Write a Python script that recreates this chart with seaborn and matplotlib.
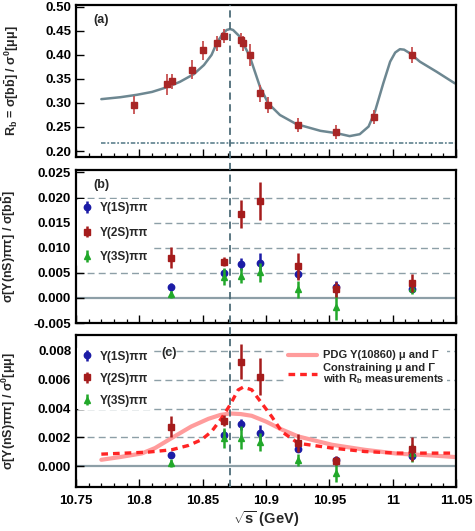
import matplotlib
matplotlib.use("Agg")
import matplotlib.pyplot as plt
import matplotlib.transforms as mtransforms
from matplotlib.lines import Line2D
from matplotlib.ticker import MultipleLocator, FixedLocator, FormatStrFormatter
import pandas as pd
import seaborn as sns

# ---------------- data ----------------
# (a) R_b scan points
rb_x = [10.796, 10.8216, 10.8255, 10.8416, 10.850, 10.8615, 10.8668, 10.8805,
        10.882, 10.8873, 10.8952, 10.9018, 10.9255, 10.955, 10.985, 11.0154]
rb_y = [0.296, 0.339, 0.345, 0.369, 0.410, 0.424, 0.439, 0.431,
        0.424, 0.400, 0.320, 0.296, 0.254, 0.239, 0.271, 0.400]
rb_err = [0.019, 0.022, 0.016, 0.020, 0.020, 0.016, 0.015, 0.015,
          0.015, 0.022, 0.017, 0.017, 0.015, 0.015, 0.015, 0.017]

# (a) fitted R_b line
rb_fit_x = [10.770, 10.785, 10.798, 10.810, 10.822, 10.832, 10.843, 10.851,
            10.857, 10.861, 10.866, 10.869, 10.8716, 10.874, 10.8794, 10.8873,
            10.8952, 10.9018, 10.911, 10.924, 10.943, 10.956, 10.966, 10.974,
            10.981, 10.986, 10.9926, 10.998, 11.002, 11.0057, 11.009, 11.0136,
            11.0215, 11.0347, 11.049]
rb_fit_y = [0.308, 0.312, 0.317, 0.323, 0.333, 0.344, 0.360, 0.379,
            0.400, 0.424, 0.445, 0.452, 0.454, 0.452, 0.438, 0.396,
            0.334, 0.299, 0.275, 0.256, 0.242, 0.237, 0.231, 0.235,
            0.251, 0.282, 0.341, 0.386, 0.405, 0.412, 0.411, 0.4035,
            0.386, 0.365, 0.341]
rb_continuum = 0.2173
peak_mass = 10.8716

# (b), (c) scan energies
scan_x = [10.825, 10.8668, 10.8802, 10.8952, 10.9255, 10.9552, 11.0154]

# (b) sigma[Y(nS)pipi] / sigma[bb]
b_1s = [0.0022, 0.0049, 0.0067, 0.0070, 0.0047, 0.0021, 0.0017]
b_1s_err = [0.0008, 0.0008, 0.0012, 0.0019, 0.0009, 0.0013, 0.0005]
b_2s = [0.0080, 0.0072, 0.0168, 0.0193, 0.0063, 0.0017, 0.0030]
b_2s_err = [0.0021, 0.0009, 0.0028, 0.0038, 0.0027, 0.0015, 0.0018]
b_3s = [0.0007, 0.0042, 0.0044, 0.0051, 0.0017, -0.0018, 0.0019]
b_3s_err = [0.0007, 0.0017, 0.0015, 0.0019, 0.0017, 0.0026, 0.0012]

# (c) sigma[Y(nS)pipi] / sigma0[mumu]
c_1s = [0.00076, 0.00219, 0.0029, 0.00228, 0.00122, 0.00046, 0.00074]
c_1s_err = [0.0002, 0.0003, 0.0004, 0.00057, 0.0002, 0.0002, 0.0002]
c_2s = [0.00276, 0.00317, 0.00724, 0.0062, 0.00161, 0.00041, 0.0012]
c_2s_err = [0.00076, 0.0004, 0.0012, 0.00126, 0.0006, 0.0003, 0.0008]
c_3s = [0.00023, 0.00198, 0.00198, 0.0017, 0.00046, -0.00046, 0.00092]
c_3s_err = [0.0003, 0.0007, 0.0008, 0.0006, 0.0004, 0.0006, 0.0006]

# (c) line shapes
pdg_x = [10.770, 10.785, 10.802, 10.8124, 10.8255, 10.841, 10.8545, 10.864,
         10.8716, 10.880, 10.8887, 10.900, 10.9125, 10.9255, 10.952, 10.978,
         11.004, 11.031, 11.049]
pdg_y = [0.00046, 0.00065, 0.00090, 0.00127, 0.00196, 0.00276, 0.00329, 0.00356,
         0.00366, 0.00362, 0.00350, 0.00310, 0.00255, 0.00207, 0.00150, 0.00115,
         0.00088, 0.00076, 0.00065]
con_x = [10.770, 10.789, 10.807, 10.8255, 10.8387, 10.849, 10.857, 10.865,
         10.8716, 10.878, 10.882, 10.8887, 10.8966, 10.9045, 10.9124, 10.9255,
         10.952, 10.978, 11.004, 11.049]
con_y = [0.00085, 0.00092, 0.00099, 0.00115, 0.00145, 0.00184, 0.00241, 0.00334,
         0.00425, 0.00529, 0.00548, 0.00530, 0.00437, 0.00345, 0.00241, 0.00160,
         0.00127, 0.00103, 0.00092, 0.00092]

ups_labels = ["Υ(1S)ππ", "Υ(2S)ππ", "Υ(3S)ππ"]
pdg_label = "PDG Υ(10860) μ and Γ"
con_label = "Constraining μ and Γ\nwith R$_{\\rm b}$ measurements"

# ---------------- style ----------------
sns.set_theme(style="white")
plt.rcParams["font.family"] = ["Liberation Sans", "DejaVu Sans"]
plt.rcParams["font.weight"] = "bold"
plt.rcParams["mathtext.fontset"] = "custom"
plt.rcParams["mathtext.rm"] = "Liberation Sans:bold"
plt.rcParams["mathtext.bf"] = "Liberation Sans:bold"
plt.rcParams["mathtext.it"] = "Liberation Sans:bold:italic"

BLUE = "#1c1ca6"
RED = "#a51c1c"
GREEN = "#22a82a"
GRID = "#8d9fa7"
FIT = "#6d8791"
TICK_FS = 9.5
YLAB_FS = 9

fig = plt.figure(figsize=(4.75, 5.31), dpi=100)
left, width = 0.160, 0.800
ax_a = fig.add_axes([left, 0.7043, width, 0.2863])
ax_b = fig.add_axes([left, 0.3917, width, 0.2883])
ax_c = fig.add_axes([left, 0.0829, width, 0.2861])

for ax in (ax_a, ax_b, ax_c):
    ax.set_xlim(10.75, 11.05)
    ax.xaxis.set_major_locator(MultipleLocator(0.05))
    ax.xaxis.set_minor_locator(MultipleLocator(0.01))
    ax.tick_params(which="both", direction="in", top=False, right=False,
                   bottom=True, left=True, labelsize=TICK_FS, colors="black")
    ax.tick_params(which="major", length=6, width=1.0)
    ax.tick_params(which="minor", length=3, width=0.9)
    for sp in ax.spines.values():
        sp.set_linewidth(1.6)
        sp.set_color("black")

# ---- (a) ----
ax_a.set_ylim(0.1875, 0.504)
ax_a.yaxis.set_major_locator(FixedLocator([0.20, 0.25, 0.30, 0.35, 0.40, 0.45, 0.50]))
ax_a.yaxis.set_major_formatter(FormatStrFormatter("%.2f"))
ax_a.tick_params(axis="x", labelbottom=False)
ax_a.plot([10.77, 11.05], [rb_continuum, rb_continuum], color="#6a8a96",
          lw=1.3, ls=(0, (2.5, 1, 1, 1)))
sns.lineplot(x=rb_fit_x, y=rb_fit_y, ax=ax_a, color=FIT, lw=1.8,
             sort=False, estimator=None)
ax_a.errorbar(rb_x, rb_y, yerr=rb_err, fmt="s", ms=4.2, color="#a82626",
              ecolor="#c75050", elinewidth=1.3, capsize=0, zorder=5)
ax_a.text(0.045, 0.90, "(a)", transform=ax_a.transAxes, fontsize=9,
          fontweight="bold", va="center")
ax_a.set_ylabel("R$_{\\rm b}$ = σ[$\\rm b\\bar{b}$] / σ$^{\\rm 0}$[μμ]",
                fontsize=YLAB_FS, fontweight="bold")
ax_a.yaxis.set_label_coords(-0.145, 0.5)


def gridlines(ax, levels):
    for lv in levels:
        ax.axhline(lv, color=GRID, lw=1.0, ls=(0, (5, 3)), zorder=0)
    ax.axhline(0.0, color=GRID, lw=1.6, zorder=0.5)


def ups_points(ax, s1, e1, s2, e2, s3, e3):
    h1 = ax.errorbar(scan_x, s1, yerr=e1, fmt="o", ms=4.6, color=BLUE,
                     elinewidth=1.8, capsize=0, zorder=5)
    h3 = ax.errorbar(scan_x, s3, yerr=e3, fmt="^", ms=5.0, color=GREEN,
                     elinewidth=1.8, capsize=0, zorder=6)
    h2 = ax.errorbar(scan_x, s2, yerr=e2, fmt="s", ms=5.0, color=RED,
                     elinewidth=1.8, capsize=0, zorder=7)
    return [h1, h2, h3]


# ---- (b) ----
ax_b.set_ylim(-0.005, 0.0255)
ax_b.yaxis.set_major_locator(FixedLocator([-0.005, 0.0, 0.005, 0.010, 0.015, 0.020, 0.025]))
ax_b.yaxis.set_major_formatter(FormatStrFormatter("%.3f"))
ax_b.tick_params(axis="x", labelbottom=False)
gridlines(ax_b, [0.005, 0.010, 0.015, 0.020])
hb = ups_points(ax_b, b_1s, b_1s_err, b_2s, b_2s_err, b_3s, b_3s_err)
leg_b = ax_b.legend(hb, ups_labels, loc="upper left", bbox_to_anchor=(-0.012, 0.85),
                    frameon=True, facecolor="white", edgecolor="none", framealpha=1,
                    fontsize=8.5, handlelength=1.0, handletextpad=0.6,
                    labelspacing=1.05, borderpad=0.3)
for t in leg_b.get_texts():
    t.set_fontweight("bold")
leg_b.set_zorder(4)
ax_b.text(0.045, 0.90, "(b)", transform=ax_b.transAxes, fontsize=9,
          fontweight="bold", va="center")
ax_b.set_ylabel("σ[Υ(nS)ππ] / σ[$\\rm b\\bar{b}$]", fontsize=YLAB_FS, fontweight="bold")
ax_b.yaxis.set_label_coords(-0.152, 0.5)

# ---- (c) ----
ax_c.set_ylim(-0.00142, 0.00908)
ax_c.yaxis.set_major_locator(FixedLocator([0.0, 0.002, 0.004, 0.006, 0.008]))
ax_c.yaxis.set_major_formatter(FormatStrFormatter("%.3f"))
gridlines(ax_c, [0.002, 0.004, 0.006, 0.008])
sns.lineplot(x=pdg_x, y=pdg_y, ax=ax_c, color="#ff9c9c", lw=3.0,
             sort=False, estimator=None, zorder=2)
sns.lineplot(x=con_x, y=con_y, ax=ax_c, color="#ff2424", lw=2.4,
             linestyle=(0, (2.0, 1.5)), sort=False, estimator=None, zorder=3)
hc = ups_points(ax_c, c_1s, c_1s_err, c_2s, c_2s_err, c_3s, c_3s_err)
leg_c1 = ax_c.legend(hc, ups_labels, loc="upper left", bbox_to_anchor=(-0.012, 0.96),
                     frameon=True, facecolor="white", edgecolor="none", framealpha=1,
                     fontsize=8.5, handlelength=1.0, handletextpad=0.6,
                     labelspacing=0.85, borderpad=0.3)
for t in leg_c1.get_texts():
    t.set_fontweight("bold")
leg_c1.set_zorder(4)
ax_c.add_artist(leg_c1)
curve_handles = [Line2D([], [], color="#ff9c9c", lw=3.0),
                 Line2D([], [], color="#ff2424", lw=2.4, ls=(0, (2.0, 1.5)))]
leg_c2 = ax_c.legend(curve_handles, [pdg_label, con_label], loc="upper right",
                     bbox_to_anchor=(0.99, 0.95), frameon=True, facecolor="white",
                     edgecolor="none", framealpha=1, fontsize=8,
                     handlelength=2.6, handletextpad=0.5, labelspacing=0.25,
                     borderpad=0.2)
for t in leg_c2.get_texts():
    t.set_fontweight("bold")
    t.set_linespacing(0.85)
leg_c2.set_zorder(4)
ax_c.text(0.225, 0.885, "(c)", transform=ax_c.transAxes, fontsize=9,
          fontweight="bold", va="center")
ax_c.set_ylabel("σ[Υ(nS)ππ] / σ$^{\\rm 0}$[μμ]", fontsize=YLAB_FS, fontweight="bold")
ax_c.yaxis.set_label_coords(-0.152, 0.5)
ax_c.set_xlabel("$\\sqrt{\\rm s}$ (GeV)", fontsize=10.5, fontweight="bold", labelpad=1)
ax_c.xaxis.set_major_formatter(FormatStrFormatter("%g"))
ax_c.tick_params(axis="x", pad=6)

# peak position marker running through all panels
trans = mtransforms.blended_transform_factory(ax_c.transData, fig.transFigure)
fig.add_artist(Line2D([peak_mass, peak_mass], [0.0829, 0.9906], transform=trans,
                      color="#4d6c78", lw=1.3, ls=(0, (4, 2.5)), zorder=10))

fig.savefig("out.png", dpi=100)
